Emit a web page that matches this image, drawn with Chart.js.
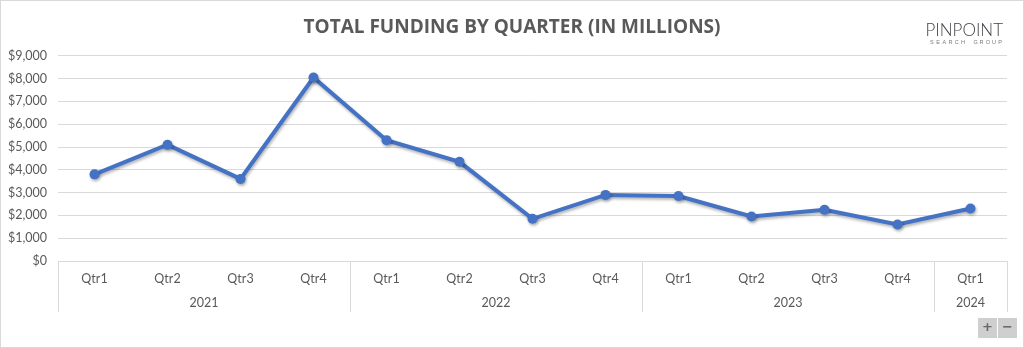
<!DOCTYPE html>
<html>
<head>
<meta charset="utf-8">
<script src="https://cdn.jsdelivr.net/npm/chart.js@4.4.1/dist/chart.umd.min.js"></script>
<style>
html,body{margin:0;padding:0;background:#fff;}
#wrap{position:relative;width:1024px;height:348px;}
</style>
</head>
<body>
<div id="wrap"><canvas id="c" width="1024" height="348"></canvas></div>
<script>
const quarters = ['Qtr1','Qtr2','Qtr3','Qtr4','Qtr1','Qtr2','Qtr3','Qtr4','Qtr1','Qtr2','Qtr3','Qtr4','Qtr1'];
const years = ['2021','2022','2023','2024'];
const yearSizes = [4, 4, 4, 1];
const funding = [3800, 5100, 3600, 8050, 5300, 4350, 1850, 2900, 2850, 1950, 2250, 1600, 2300];
const yTicks = [0,1000,2000,3000,4000,5000,6000,7000,8000,9000];
const titleText = 'TOTAL FUNDING BY QUARTER (IN MILLIONS)';

const GREY = '#595959';
const LINE = '#d9d9d9';

const decor = {
  id: 'decor',
  beforeDraw(chart) {
    const ctx = chart.ctx;
    ctx.save();
    ctx.fillStyle = '#fff';
    ctx.fillRect(0, 0, chart.width, chart.height);
    ctx.restore();
  },
  afterDraw(chart) {
    const ctx = chart.ctx;
    const x = chart.scales.x;
    const area = chart.chartArea;
    ctx.save();
    ctx.strokeStyle = LINE;
    ctx.lineWidth = 1;
    const half = (x.getPixelForValue(1) - x.getPixelForValue(0)) / 2;
    let idx = 0;
    const bounds = [x.getPixelForValue(0) - half];
    ctx.fillStyle = GREY;
    ctx.font = '12.5px Lato, "Liberation Sans", sans-serif';
    ctx.textAlign = 'center';
    ctx.textBaseline = 'middle';
    years.forEach((yr, i) => {
      const start = x.getPixelForValue(idx) - half;
      const end = x.getPixelForValue(idx + yearSizes[i] - 1) + half;
      ctx.fillText(yr, (start + end) / 2, 303);
      bounds.push(end);
      idx += yearSizes[i];
    });
    bounds.forEach(b => {
      const bx = Math.round(b) + 0.5;
      ctx.beginPath();
      ctx.moveTo(bx, area.bottom);
      ctx.lineTo(bx, 312);
      ctx.stroke();
    });
    ctx.strokeStyle = '#d9d9d9';
    ctx.strokeRect(0.5, 0.5, chart.width - 1, chart.height - 1);
    // logo
    ctx.fillStyle = '#3f3f46';
    ctx.font = '300 17px Lato, "Liberation Sans", sans-serif';
    ctx.textAlign = 'right';
    ctx.textBaseline = 'alphabetic';
    ctx.fillText('PINPOINT', 1003, 36);
    ctx.fillStyle = '#7a7a7a';
    ctx.font = '5.5px "Liberation Sans", sans-serif';
    ctx.textAlign = 'left';
    const sg = 'SEARCH GROUP';
    let sx = 930;
    for (const ch of sg) { ctx.fillText(ch, sx, 44); sx += 6.2; }
    // zoom buttons
    ctx.fillStyle = '#cfcfcf';
    ctx.fillRect(978, 318, 19, 20);
    ctx.fillRect(998, 318, 19, 20);
    ctx.fillStyle = '#666';
    ctx.font = 'bold 13px "DejaVu Sans", sans-serif';
    ctx.textAlign = 'center';
    ctx.textBaseline = 'middle';
    ctx.fillText('+', 987.5, 328);
    ctx.fillText('\u2212', 1007.5, 328);
    ctx.restore();
  },
  beforeDatasetDraw(chart) {
    const ctx = chart.ctx;
    ctx.save();
    ctx.shadowColor = 'rgba(0,0,0,0.3)';
    ctx.shadowBlur = 3;
    ctx.shadowOffsetX = 1;
    ctx.shadowOffsetY = 2;
  },
  afterDatasetDraw(chart) {
    chart.ctx.restore();
  }
};

new Chart(document.getElementById('c'), {
  type: 'line',
  data: {
    labels: quarters,
    datasets: [{
      data: funding,
      yAxisID: 'y',
      borderColor: '#4472C4',
      backgroundColor: '#4472C4',
      borderWidth: 4,
      pointRadius: 5,
      pointHoverRadius: 5,
      pointBorderWidth: 0,
      pointBackgroundColor: '#4472C4',
      pointBorderColor: '#4472C4',
      tension: 0,
      fill: false
    }]
  },
  options: {
    responsive: false,
    animation: false,
    events: [],
    layout: { padding: 0 },
    plugins: {
      legend: { display: false },
      tooltip: { enabled: false },
      title: {
        display: true,
        text: titleText,
        color: GREY,
        font: { family: '"Open Sans", sans-serif', size: 19, weight: '700' },
        padding: { top: 16, bottom: 17 }
      }
    },
    scales: {
      x: {
        offset: true,
        grid: { display: false, drawTicks: false },
        border: { display: true, color: LINE, width: 1 },
        ticks: {
          color: GREY,
          font: { family: 'Lato, "Liberation Sans", sans-serif', size: 12.5 },
          padding: 10,
          maxRotation: 0,
          autoSkip: false
        },
        afterFit(s) { s.height = 348 - 261; }
      },
      y: {
        position: 'left',
        min: 0,
        max: 9000,
        afterBuildTicks(s) { s.ticks = yTicks.map(v => ({ value: v })); },
        grid: { color: LINE, lineWidth: 1, drawTicks: false },
        border: { display: false },
        ticks: {
          color: GREY,
          font: { family: 'Lato, "Liberation Sans", sans-serif', size: 12.5 },
          padding: 11,
          callback: v => '$' + v.toLocaleString('en-US')
        },
        afterFit(s) { s.width = 58; }
      },
      yRight: {
        position: 'right',
        min: 0,
        max: 9000,
        grid: { display: false, drawTicks: false },
        border: { display: false },
        ticks: { display: false },
        afterFit(s) { s.width = 17; }
      }
    }
  },
  plugins: [decor]
});
</script>
</body>
</html>
